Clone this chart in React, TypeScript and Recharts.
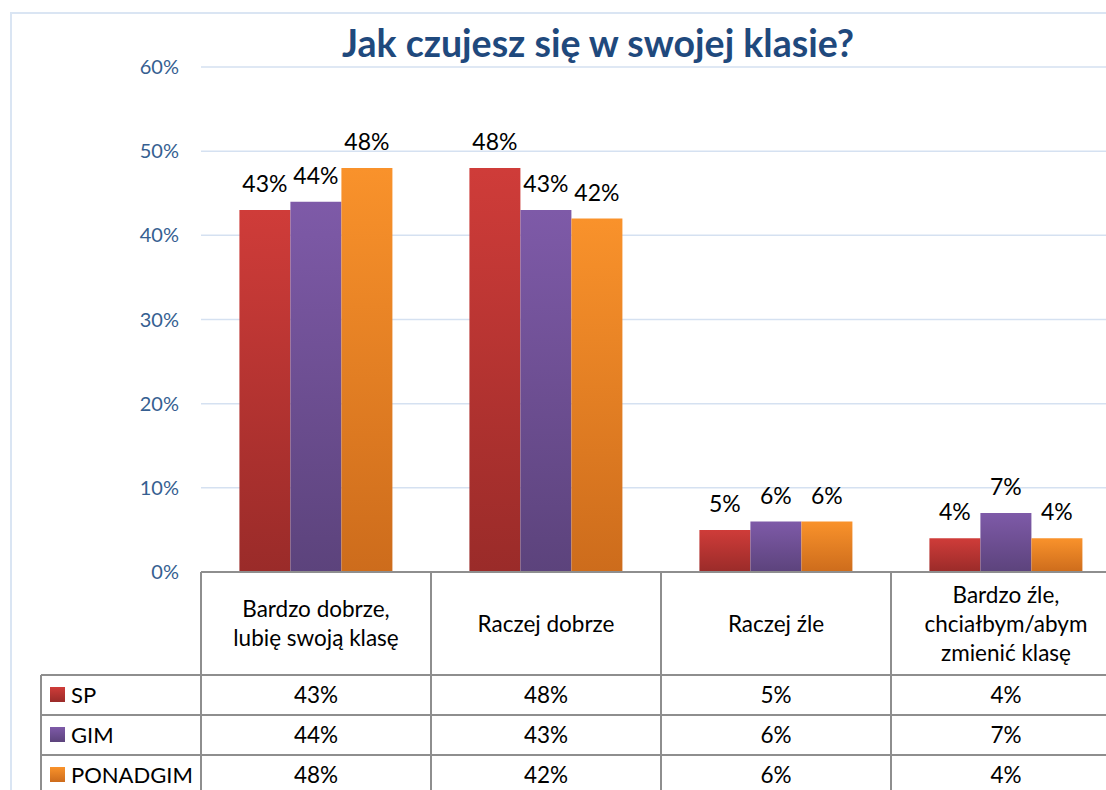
import { BarChart, Bar, XAxis, YAxis, CartesianGrid, LabelList } from "recharts";

const categories = ["Bardzo dobrze,\nlubię swoją klasę", "Raczej dobrze", "Raczej źle", "Bardzo źle,\nchciałbym/abym\nzmienić klasę"];
const sp = [43, 48, 5, 4];
const gim = [44, 43, 6, 7];
const ponadgim = [48, 42, 6, 4];
const seriesNames = ["SP", "GIM", "PONADGIM"];
const yTicks = [0, 10, 20, 30, 40, 50, 60];

const data = categories.map((name, i) => ({ name, sp: sp[i], gim: gim[i], ponadgim: ponadgim[i] }));
const seriesValues = [sp, gim, ponadgim];

const FONT = "Lato, 'Open Sans', sans-serif";
const CHART_W = 1140;
const CHART_H = 800;
const M_LEFT = 201;
const M_RIGHT = 19;
const M_TOP = 67;
const AXIS_H = 228;
const BAND = (CHART_W - M_LEFT - M_RIGHT) / categories.length;
const LINE = "#8e8e8e";
const ROW_LEFT = 41;
const HEADER_H = 103;
const ROW_H = 40;

const GRADS = [
  { id: "gSp", top: "#cf3c39", bottom: "#9a2b29" },
  { id: "gGim", top: "#7e5aa8", bottom: "#5c437c" },
  { id: "gPon", top: "#f9922b", bottom: "#cd6c1c" },
];

function TableColumn(props: any) {
  const { x, y, payload } = props;
  const i = payload.index ?? props.index ?? 0;
  const left = x - BAND / 2;
  const right = x + BAND / 2;
  const lines = String(payload.value).split("\n");
  const lh = 29;
  const headCenter = y + 52;
  const rowTop = y + HEADER_H;
  const bottom = rowTop + ROW_H * 3 + 20;
  return (
    <g>
      <line x1={left} x2={right} y1={y} y2={y} stroke={LINE} strokeWidth={2} />
      <line x1={left} x2={left} y1={y} y2={bottom} stroke={LINE} strokeWidth={2} />
      <line x1={right} x2={right} y1={y} y2={bottom} stroke={LINE} strokeWidth={2} />
      {[0, 1, 2].map((r) => (
        <line key={r} x1={left} x2={right} y1={rowTop + r * ROW_H} y2={rowTop + r * ROW_H} stroke={LINE} strokeWidth={2} />
      ))}
      {lines.map((t, k) => (
        <text key={k} x={x} y={headCenter + (k - (lines.length - 1) / 2) * lh} dy="0.35em" textAnchor="middle"
          fontSize={22.5} fontFamily={FONT} fill="#000">{t}</text>
      ))}
      {seriesValues.map((vals, r) => (
        <text key={r} x={x} y={rowTop + r * ROW_H + ROW_H / 2} dy="0.35em" textAnchor="middle"
          fontSize={22.5} fontFamily={FONT} fill="#000">{vals[i]}%</text>
      ))}
      {i === 0 && (
        <g>
          <line x1={ROW_LEFT} x2={ROW_LEFT} y1={rowTop} y2={bottom} stroke={LINE} strokeWidth={2} />
          {seriesNames.map((s, r) => (
            <g key={s}>
              <line x1={ROW_LEFT} x2={left} y1={rowTop + r * ROW_H} y2={rowTop + r * ROW_H} stroke={LINE} strokeWidth={2} />
              <rect x={50} y={rowTop + r * ROW_H + 12} width={15} height={15} fill={`url(#${GRADS[r].id})`} />
              <text x={71} y={rowTop + r * ROW_H + ROW_H / 2} dy="0.35em" fontSize={22} fontFamily={FONT} fill="#000">{s}</text>
            </g>
          ))}
        </g>
      )}
    </g>
  );
}

export default function App() {
  const labelStyle = { fontSize: 23, fontFamily: FONT, fill: "#000" };
  return (
    <div style={{ position: "absolute", left: 0, top: 0, width: 1106, height: 790, overflow: "hidden", background: "#fff" }}>
      <div style={{ position: "absolute", left: 10, top: 12, width: 1200, height: 900, border: "2px solid #dae5f3" }} />
      <div style={{ position: "absolute", left: 0, top: 0 }}>
        <BarChart width={CHART_W} height={CHART_H} data={data}
          margin={{ top: M_TOP, right: M_RIGHT, left: 0, bottom: 0 }}
          barCategoryGap="16.7%" barGap={0}>
          <defs>
            {GRADS.map((g) => (
              <linearGradient key={g.id} id={g.id} x1="0" y1="0" x2="0" y2="1">
                <stop offset="0%" stopColor={g.top} />
                <stop offset="100%" stopColor={g.bottom} />
              </linearGradient>
            ))}
          </defs>
          <text x={598} y={57} textAnchor="middle" fontSize={37.5} fontWeight={700} fontFamily={FONT} fill="#1f497d">
            Jak czujesz się w swojej klasie?
          </text>
          <CartesianGrid vertical={false} stroke="#d5e1f1" strokeWidth={1.5} />
          <YAxis domain={[0, 60]} ticks={yTicks} width={M_LEFT} axisLine={false} tickLine={false} tickMargin={16}
            tickFormatter={(v) => `${v}%`} tick={{ fontSize: 20, fontFamily: FONT, fill: "#365f91" }} />
          <XAxis dataKey="name" height={AXIS_H} axisLine={false} tickLine={false} tickSize={0} tickMargin={0}
            interval={0} tick={<TableColumn />} />
          <Bar dataKey="sp" name="SP" fill="url(#gSp)" isAnimationActive={false}>
            <LabelList dataKey="sp" position="top" offset={18} formatter={(v: any) => `${v}%`} style={labelStyle} />
          </Bar>
          <Bar dataKey="gim" name="GIM" fill="url(#gGim)" isAnimationActive={false}>
            <LabelList dataKey="gim" position="top" offset={18} formatter={(v: any) => `${v}%`} style={labelStyle} />
          </Bar>
          <Bar dataKey="ponadgim" name="PONADGIM" fill="url(#gPon)" isAnimationActive={false}>
            <LabelList dataKey="ponadgim" position="top" offset={18} formatter={(v: any) => `${v}%`} style={labelStyle} />
          </Bar>
        </BarChart>
      </div>
    </div>
  );
}
